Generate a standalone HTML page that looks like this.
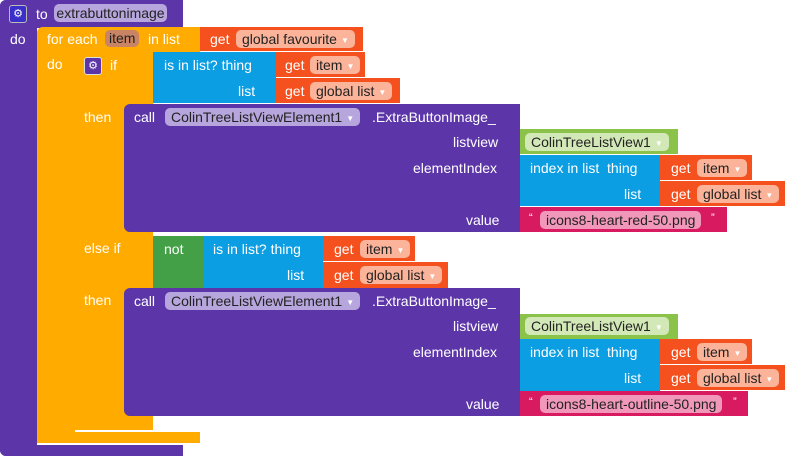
<!DOCTYPE html>
<html><head><meta charset="utf-8"><style>
body{margin:0;width:786px;height:456px;background:#fff;position:relative;overflow:hidden;font-family:"Liberation Sans",Arial,sans-serif;font-size:14px;color:#fff}
.b{position:absolute}
.t{position:absolute;white-space:nowrap;line-height:16px}
.P{background:#5c35a9}.O{background:#ffab00}.R{background:#f4511e}.B{background:#0b9ee2}.G{background:#43a047}.L{background:#8bc34a}.K{background:#d81b60}
.f{position:absolute;height:18px;line-height:18px;border-radius:5px;padding:0 6px;white-space:nowrap;color:#222}
.fp{background:#b7a5dd}.fo{background:#fbb39a}.fl{background:#d2e8b6}.fk{background:#f198ba}.fi{background:#c88465}
.ar{font-size:8px;color:#fff;margin-left:4px;vertical-align:1px}
</style></head><body>
<!-- procedure -->
<div class="b P" style="left:0;top:0;width:183px;height:28px;border-radius:6px 0 0 0"></div>
<div class="b P" style="left:0;top:0;width:37px;height:456px;border-radius:6px 0 0 6px"></div>
<div class="b P" style="left:0;top:445px;width:183px;height:11px;border-radius:0 0 0 6px"></div>
<div class="b" style="left:9px;top:5px;width:16px;height:16px;background:#3b2fc9;border:1px solid #bbb;border-radius:3px;font-size:11px;text-align:center;line-height:16px">⚙</div>
<div class="t" style="left:36px;top:6px">to</div>
<div class="f fp" style="left:54px;top:4px;width:113px;padding:0;text-align:center">extrabuttonimage</div>
<div class="t" style="left:10px;top:31px">do</div>
<!-- for each -->
<div class="b O" style="left:37px;top:27px;width:163px;height:25px;border-radius:6px 0 0 0"></div>
<div class="b O" style="left:37px;top:27px;width:38px;height:416px;border-radius:6px 0 0 6px"></div>
<div class="b O" style="left:37px;top:432px;width:163px;height:11px"></div>
<div class="t" style="left:47px;top:31px">for each</div>
<div class="f fi" style="left:105px;top:30px;height:17px;line-height:17px;padding:0 4px">item</div>
<div class="t" style="left:148px;top:31px">in list</div>
<div class="b R" style="left:200px;top:27px;width:163px;height:24px"></div>
<div class="t" style="left:210px;top:31px">get</div>
<div class="f fo" style="left:236px;top:30px">global favourite<span class="ar">▼</span></div>
<div class="t" style="left:47px;top:56px">do</div>
<!-- if -->
<div class="b O" style="left:75px;top:52px;width:78px;height:378px"></div>
<div class="b" style="left:75px;top:430px;width:125px;height:2px;background:#fff"></div>
<div class="b" style="left:84px;top:57px;width:16px;height:16px;background:#5c35a9;border:1px solid #ddd;border-radius:3px;font-size:11px;text-align:center;line-height:16px">⚙</div>
<div class="t" style="left:110px;top:57px">if</div>
<div class="t" style="left:84px;top:109px">then</div>
<div class="t" style="left:84px;top:240px">else if</div>
<div class="t" style="left:84px;top:292px">then</div>
<!-- is in list 1 -->
<div class="b B" style="left:153px;top:52px;width:123px;height:51px"></div>
<div class="t" style="left:164px;top:57px">is in list? thing</div>
<div class="t" style="left:238px;top:83px">list</div>
<div class="b R" style="left:276px;top:52px;width:89px;height:25px"></div>
<div class="t" style="left:285px;top:57px">get</div>
<div class="f fo" style="left:310px;top:56px">item<span class="ar">▼</span></div>
<div class="b R" style="left:276px;top:78px;width:124px;height:25px"></div>
<div class="t" style="left:285px;top:83px">get</div>
<div class="f fo" style="left:310px;top:82px">global list<span class="ar">▼</span></div>
<!-- call 1 -->
<div class="b P" style="left:124px;top:104px;width:396px;height:128px;border-radius:6px 0 0 6px"></div>
<div class="t" style="left:134px;top:109px">call</div>
<div class="f fp" style="left:165px;top:108px">ColinTreeListViewElement1<span class="ar">▼</span></div>
<div class="t" style="left:372px;top:109px">.ExtraButtonImage_</div>
<div class="t" style="left:453px;top:134px">listview</div>
<div class="t" style="left:413px;top:160px">elementIndex</div>
<div class="t" style="left:466px;top:212px">value</div>
<div class="b L" style="left:520px;top:129px;width:158px;height:25px"></div>
<div class="f fl" style="left:525px;top:133px">ColinTreeListView1<span class="ar">▼</span></div>
<div class="b B" style="left:520px;top:155px;width:140px;height:51px"></div>
<div class="t" style="left:530px;top:160px">index in list&nbsp; thing</div>
<div class="t" style="left:624px;top:186px">list</div>
<div class="b R" style="left:660px;top:155px;width:92px;height:25px"></div>
<div class="t" style="left:671px;top:160px">get</div>
<div class="f fo" style="left:697px;top:159px">item<span class="ar">▼</span></div>
<div class="b R" style="left:660px;top:181px;width:125px;height:25px"></div>
<div class="t" style="left:671px;top:186px">get</div>
<div class="f fo" style="left:697px;top:185px">global list<span class="ar">▼</span></div>
<div class="b K" style="left:520px;top:207px;width:207px;height:25px"></div>
<div class="t" style="left:529px;top:210px;font-size:11px">“</div>
<div class="f fk" style="left:540px;top:211px">icons8-heart-red-50.png</div>
<div class="t" style="left:711px;top:210px;font-size:11px">”</div>
<!-- else if condition -->
<div class="b G" style="left:153px;top:236px;width:50px;height:52px"></div>
<div class="t" style="left:164px;top:241px">not</div>
<div class="b B" style="left:203px;top:236px;width:120px;height:52px"></div>
<div class="t" style="left:213px;top:241px">is in list? thing</div>
<div class="t" style="left:287px;top:267px">list</div>
<div class="b R" style="left:323px;top:236px;width:92px;height:25px"></div>
<div class="t" style="left:334px;top:241px">get</div>
<div class="f fo" style="left:360px;top:240px">item<span class="ar">▼</span></div>
<div class="b R" style="left:323px;top:262px;width:125px;height:26px"></div>
<div class="t" style="left:334px;top:267px">get</div>
<div class="f fo" style="left:360px;top:266px">global list<span class="ar">▼</span></div>
<!-- call 2 -->
<div class="b P" style="left:124px;top:288px;width:396px;height:128px;border-radius:6px 0 0 6px"></div>
<div class="t" style="left:134px;top:293px">call</div>
<div class="f fp" style="left:165px;top:292px">ColinTreeListViewElement1<span class="ar">▼</span></div>
<div class="t" style="left:372px;top:293px">.ExtraButtonImage_</div>
<div class="t" style="left:453px;top:318px">listview</div>
<div class="t" style="left:413px;top:344px">elementIndex</div>
<div class="t" style="left:466px;top:396px">value</div>
<div class="b L" style="left:520px;top:314px;width:158px;height:25px"></div>
<div class="f fl" style="left:525px;top:317px">ColinTreeListView1<span class="ar">▼</span></div>
<div class="b B" style="left:520px;top:339px;width:140px;height:52px"></div>
<div class="t" style="left:530px;top:344px">index in list&nbsp; thing</div>
<div class="t" style="left:624px;top:370px">list</div>
<div class="b R" style="left:660px;top:339px;width:92px;height:25px"></div>
<div class="t" style="left:671px;top:344px">get</div>
<div class="f fo" style="left:697px;top:343px">item<span class="ar">▼</span></div>
<div class="b R" style="left:660px;top:365px;width:125px;height:25px"></div>
<div class="t" style="left:671px;top:370px">get</div>
<div class="f fo" style="left:697px;top:369px">global list<span class="ar">▼</span></div>
<div class="b K" style="left:520px;top:391px;width:228px;height:25px"></div>
<div class="t" style="left:529px;top:394px;font-size:11px">“</div>
<div class="f fk" style="left:540px;top:395px">icons8-heart-outline-50.png</div>
<div class="t" style="left:733px;top:394px;font-size:11px">”</div>
</body></html>
